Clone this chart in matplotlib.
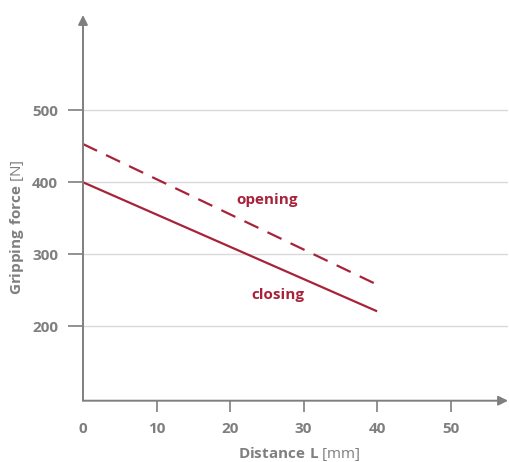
import matplotlib
matplotlib.use("Agg")
import matplotlib.pyplot as plt

# data
distance = [0, 40]
closing = [400, 221]
opening = [453, 258]
x_ticks = [0, 10, 20, 30, 40, 50]
y_ticks = [200, 300, 400, 500]

red = "#a8233a"
gray = "#7f7f7f"

plt.rcParams["font.family"] = ["Open Sans", "DejaVu Sans"]
plt.rcParams["mathtext.fontset"] = "custom"
plt.rcParams["mathtext.rm"] = "Open Sans"
plt.rcParams["mathtext.bf"] = "Open Sans:bold"

fig = plt.figure(figsize=(5.1, 4.62), dpi=100)
ax = fig.add_axes([83 / 510, 61.3 / 462, (508 - 83) / 510, (447 - 61.3) / 462])

ax.plot(distance, closing, color=red, lw=1.6, solid_capstyle="butt")
ax.plot(distance, opening, color=red, lw=1.6, dashes=(7, 4.5))

ax.text(25.1, 376, "opening", color=red, fontsize=11, fontweight="bold", ha="center", va="center")
ax.text(26.5, 243, "closing", color=red, fontsize=11, fontweight="bold", ha="center", va="center")

ax.set_xlim(0, 57.8)
ax.set_ylim(97, 632)
ax.set_xticks(x_ticks)
ax.set_xticklabels([str(v) for v in x_ticks], fontweight="bold", fontsize=11)
ax.set_yticks(y_ticks)
ax.set_yticklabels([str(v) for v in y_ticks], fontweight="bold", fontsize=11)
ax.grid(axis="y", color="#d9d9d9", lw=1)
ax.set_axisbelow(True)

for s in ax.spines.values():
    s.set_visible(False)

ax.tick_params(axis="both", colors=gray, labelcolor=gray, width=1.2)
ax.tick_params(axis="y", length=11, pad=7)
ax.tick_params(axis="x", length=8, pad=7)
ax.xaxis.get_major_ticks()[0].tick1line.set_visible(False)

# axis arrows
arrow = dict(arrowstyle="-|>", color=gray, lw=1.4, mutation_scale=14, shrinkA=0, shrinkB=0)
ax.annotate("", xy=(0, 1), xytext=(0, 0), xycoords="axes fraction", arrowprops=arrow, annotation_clip=False)
ax.annotate("", xy=(1, 0), xytext=(0, 0), xycoords="axes fraction", arrowprops=arrow, annotation_clip=False)

ax.set_xlabel(r"$\mathbf{Distance\ L}$ [mm]", color=gray, fontsize=11)
ax.set_ylabel(r"$\mathbf{Gripping\ force}$ [N]", color=gray, fontsize=11)
ax.xaxis.set_label_coords(0.51, -0.115)
ax.yaxis.set_label_coords(-0.135, 0.45)

fig.savefig("out.png", dpi=100)
